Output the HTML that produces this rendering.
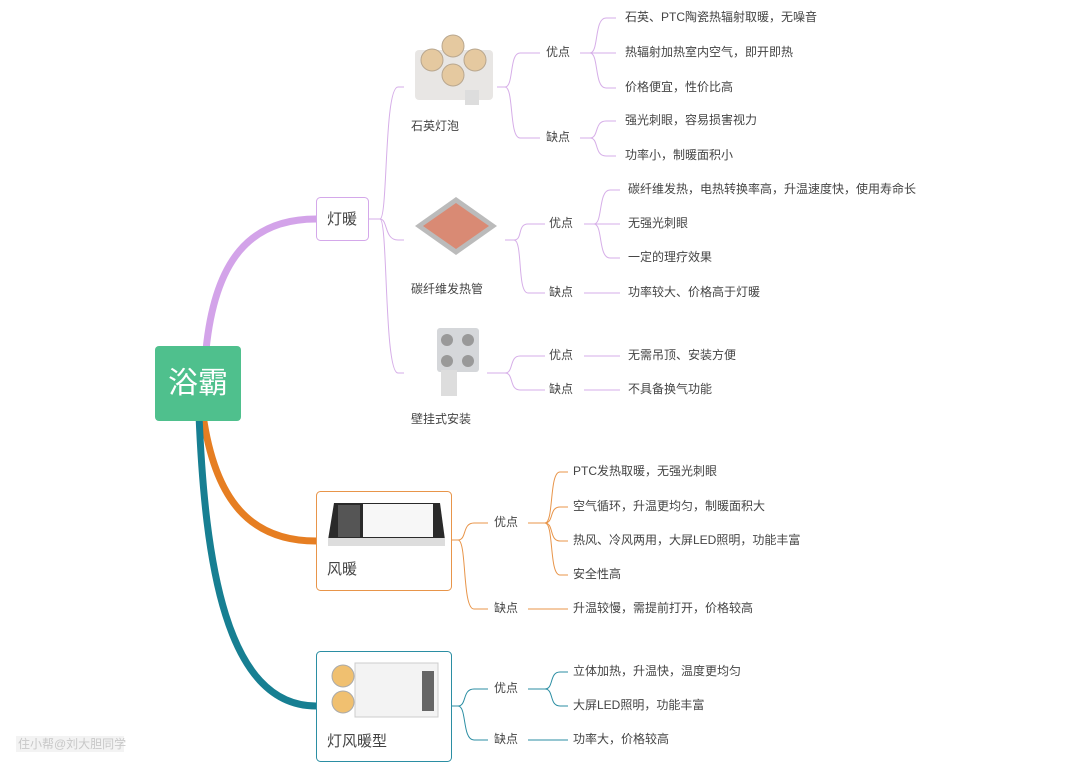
<!DOCTYPE html>
<html><head><meta charset="utf-8"><style>
html,body{margin:0;padding:0;background:#fff;width:1080px;height:772px;overflow:hidden}
svg text{font-family:"Liberation Sans","Noto Sans CJK SC",sans-serif;font-size:12px;fill:#444;dominant-baseline:middle}
</style></head><body>
<svg width="1080" height="772" viewBox="0 0 1080 772" xmlns="http://www.w3.org/2000/svg">
<!-- main curves -->
<path d="M206 350 C215 260 250 219 316 219" stroke="#d3a3e9" stroke-width="7" fill="none"/>
<path d="M203 415 C215 500 250 541 316 541" stroke="#e67e22" stroke-width="7" fill="none"/>
<path d="M199 415 C205 560 225 706 316 706" stroke="#177f92" stroke-width="7" fill="none"/>
<rect x="155" y="346" width="86" height="75" rx="4" fill="#4fc08d"/>
<text x="198" y="385" text-anchor="middle" style="font-size:30px;fill:#fff">浴霸</text>

<!-- 灯暖 -->
<rect x="316.5" y="197.5" width="52" height="43" rx="4" fill="#fff" stroke="#d4a8ea"/>
<text x="342" y="220" text-anchor="middle" style="font-size:15px">灯暖</text>
<g stroke="#d6aee8" fill="none" stroke-width="1">
<path d="M369 219 H380 C388 219 384 87 398 87 H404"/>
<path d="M380 219 C388 219 384 240 398 240 H404"/>
<path d="M380 219 C388 219 384 373 398 373 H404"/>
<path d="M497 87 H505 C514 87 509 53 520 53 H540"/>
<path d="M505 87 C514 87 509 138 520 138 H540"/>
<path d="M580 53 H590 C599 53 594 18 606 18 H616"/>
<path d="M580 53 H616"/>
<path d="M590 53 C599 53 594 88 606 88 H616"/>
<path d="M580 138 H590 C599 138 594 121 606 121 H616"/>
<path d="M590 138 C599 138 594 156 606 156 H616"/>
<path d="M505 240 H514 C523 240 517 224 528 224 H545"/>
<path d="M514 240 C523 240 517 293 528 293 H545"/>
<path d="M584 224 H594 C603 224 598 190 610 190 H620"/>
<path d="M584 224 H620"/>
<path d="M594 224 C603 224 598 258 610 258 H620"/>
<path d="M584 293 H620"/>
<path d="M487 373 H505 C514 373 509 356 520 356 H545"/>
<path d="M505 373 C514 373 509 390 520 390 H545"/>
<path d="M584 356 H620"/>
<path d="M584 390 H620"/>
</g>
<!-- images approx -->
<g>
<rect x="415" y="50" width="78" height="50" rx="4" fill="#e8e6e4" transform="rotate(0)"/>
<circle cx="432" cy="60" r="11" fill="#e5c9a0" stroke="#b9a78f"/>
<circle cx="475" cy="60" r="11" fill="#e5c9a0" stroke="#b9a78f"/>
<circle cx="453" cy="46" r="11" fill="#e5c9a0" stroke="#b9a78f"/>
<circle cx="453" cy="75" r="11" fill="#e5c9a0" stroke="#b9a78f"/>
<rect x="465" y="90" width="14" height="15" fill="#ddd"/>
</g>
<text x="411" y="127">石英灯泡</text>
<polygon points="456,197 497,226 456,255 415,226" fill="#bbb"/>
<polygon points="456,203 489,226 456,249 423,226" fill="#d98a74"/>
<text x="411" y="290">碳纤维发热管</text>
<rect x="437" y="328" width="42" height="44" rx="3" fill="#d5d7da"/>
<circle cx="447" cy="340" r="6" fill="#999"/><circle cx="468" cy="340" r="6" fill="#999"/>
<circle cx="447" cy="361" r="6" fill="#999"/><circle cx="468" cy="361" r="6" fill="#999"/>
<rect x="441" y="370" width="16" height="26" fill="#ddd"/>
<text x="411" y="420">壁挂式安装</text>

<text x="546" y="53">优点</text><text x="546" y="138">缺点</text>
<text x="625" y="18">石英、PTC陶瓷热辐射取暖，无噪音</text>
<text x="625" y="53">热辐射加热室内空气，即开即热</text>
<text x="625" y="88">价格便宜，性价比高</text>
<text x="625" y="121">强光刺眼，容易损害视力</text>
<text x="625" y="156">功率小，制暖面积小</text>
<text x="549" y="224">优点</text><text x="549" y="293">缺点</text>
<text x="628" y="190">碳纤维发热，电热转换率高，升温速度快，使用寿命长</text>
<text x="628" y="224">无强光刺眼</text>
<text x="628" y="258">一定的理疗效果</text>
<text x="628" y="293">功率较大、价格高于灯暖</text>
<text x="549" y="356">优点</text><text x="549" y="390">缺点</text>
<text x="628" y="356">无需吊顶、安装方便</text>
<text x="628" y="390">不具备换气功能</text>

<!-- 风暖 -->
<rect x="316.5" y="491.5" width="135" height="99" rx="4" fill="#fff" stroke="#e8954a"/>
<polygon points="334,503 440,503 445,540 328,540" fill="#2a2a2a"/>
<rect x="338" y="505" width="22" height="32" fill="#555"/>
<rect x="363" y="504" width="70" height="33" fill="#f7f7f7"/>
<rect x="328" y="538" width="117" height="8" fill="#ddd"/>
<text x="327" y="570" style="font-size:15px">风暖</text>
<g stroke="#e8954a" fill="none">
<path d="M451 540 H458 C467 540 462 523 474 523 H488"/>
<path d="M458 540 C467 540 462 609 474 609 H488"/>
<path d="M528 523 H545 C554 523 549 472 560 472 H568"/>
<path d="M545 523 C554 523 549 507 560 507 H568"/>
<path d="M545 523 C554 523 549 541 560 541 H568"/>
<path d="M545 523 C554 523 549 575 560 575 H568"/>
<path d="M528 609 H568"/>
</g>
<text x="494" y="523">优点</text><text x="494" y="609">缺点</text>
<text x="573" y="472">PTC发热取暖，无强光刺眼</text>
<text x="573" y="507">空气循环，升温更均匀，制暖面积大</text>
<text x="573" y="541">热风、冷风两用，大屏LED照明，功能丰富</text>
<text x="573" y="575">安全性高</text>
<text x="573" y="609">升温较慢，需提前打开，价格较高</text>

<!-- 灯风暖型 -->
<rect x="316.5" y="651.5" width="135" height="110" rx="4" fill="#fff" stroke="#2b8ea3"/>
<circle cx="343" cy="676" r="11" fill="#f0c070" stroke="#aaa"/>
<circle cx="343" cy="702" r="11" fill="#f0c070" stroke="#aaa"/>
<rect x="355" y="663" width="83" height="54" fill="#f3f3f3" stroke="#ccc"/>
<rect x="422" y="671" width="12" height="40" fill="#666"/>
<text x="327" y="742" style="font-size:15px">灯风暖型</text>
<g stroke="#2b8ea3" fill="none">
<path d="M451 706 H458 C467 706 462 689 474 689 H488"/>
<path d="M458 706 C467 706 462 740 474 740 H488"/>
<path d="M528 689 H545 C554 689 549 672 560 672 H568"/>
<path d="M545 689 C554 689 549 706 560 706 H568"/>
<path d="M528 740 H568"/>
</g>
<text x="494" y="689">优点</text><text x="494" y="740">缺点</text>
<text x="573" y="672">立体加热，升温快，温度更均匀</text>
<text x="573" y="706">大屏LED照明，功能丰富</text>
<text x="573" y="740">功率大，价格较高</text>

<rect x="16" y="736" width="108" height="16" fill="#eee" opacity="0.7"/>
<text x="18" y="745" style="fill:#c8c8c8">住小帮@刘大胆同学</text>
</svg>
</body></html>
